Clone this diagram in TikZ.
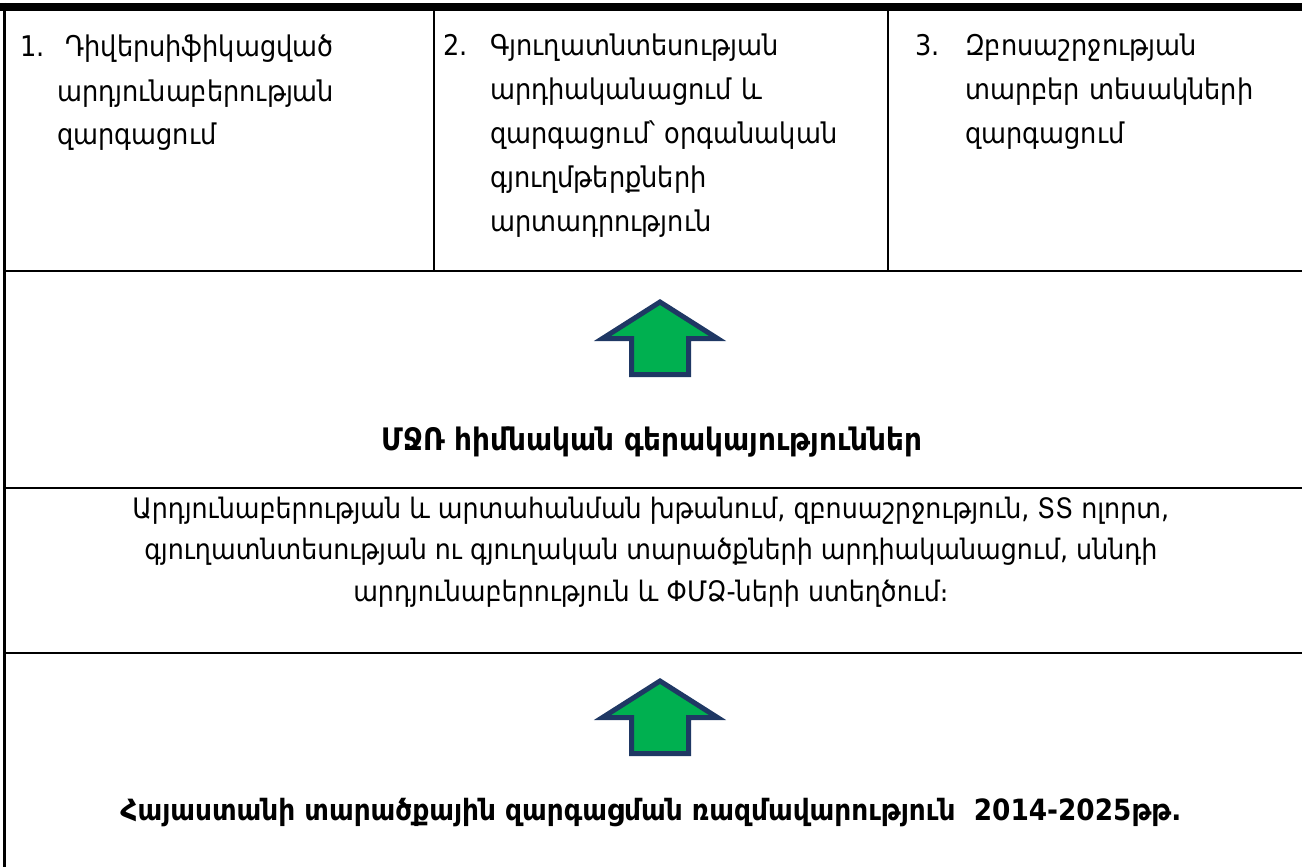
\documentclass[tikz,border=0pt]{standalone}
\usepackage{fontspec}
\setmainfont{DejaVu Sans Condensed}
\definecolor{arrowgreen}{HTML}{00B050}
\definecolor{arrownavy}{HTML}{1F3864}
\tikzset{
  rule/.style={line width=2.5pt, black},
  celltext/.style={anchor=base west, inner sep=0pt, align=left, text width=#1,
    font=\fontsize{28.5}{44}\selectfont},
  numtext/.style={anchor=base west, inner sep=0pt, font=\fontsize{28.5}{44}\selectfont},
  boldtitle/.style={anchor=base, inner sep=0pt, font=\bfseries\fontsize{#1}{34}\selectfont},
  paratext/.style={anchor=base, inner sep=0pt, align=center, font=\fontsize{28.2}{41.5}\selectfont},
  uparrow/.pic={
    \draw[line width=5pt, line join=miter, draw=arrownavy, fill=arrowgreen]
      (0,0) -- (-57.5,-36.5) -- (-28.5,-36.5) -- (-28.5,-72.5) -- (28.5,-72.5)
      -- (28.5,-36.5) -- (57.5,-36.5) -- cycle;
  }
}
\begin{document}
\begin{tikzpicture}[x=1pt,y=1pt]
\useasboundingbox (0,0) rectangle (1302,-867);
% frame
\fill[black] (0,-3) rectangle (1302,-11);
\draw[rule] (4.5,-3) -- (4.5,-867);
\draw[rule] (4.5,-271) -- (1302,-271);
\draw[rule] (4.5,-488) -- (1302,-488);
\draw[rule] (4.5,-653) -- (1302,-653);
\draw[rule] (434,-11) -- (434,-271);
\draw[rule] (888,-11) -- (888,-271);
% top cells
\node[numtext] (n1) at (20,-57) {1.};
\node[celltext=370pt] (c1) at (57,-57) {\hspace{8pt}Դիվերսիֆիկացված\\արդյունաբերության\\զարգացում};
\node[numtext] (n2) at (443,-56) {2.};
\node[celltext=390pt] (c2) at (490,-56) {Գյուղատնտեսության\\արդիականացում և\\զարգացում՝ օրգանական\\գյուղմթերքների\\արտադրություն};
\node[numtext] (n3) at (915,-56) {3.};
\node[celltext=330pt] (c3) at (965,-56) {Զբոսաշրջության\\տարբեր տեսակների\\զարգացում};
% arrow 1 and title
\pic (a1) at (660,-302) {uparrow};
\node[boldtitle=31] (t1) at (652,-450) {ՄՋՌ հիմնական գերակայություններ};
% paragraph
\node[paratext] (p1) at (651,-601) {Արդյունաբերության և արտահանման խթանում, զբոսաշրջություն, ՏՏ ոլորտ,\\գյուղատնտեսության ու գյուղական տարածքների արդիականացում, սննդի\\արդյունաբերություն և ՓՄՁ-ների ստեղծում։};
% arrow 2 and bottom title
\pic (a2) at (660,-681) {uparrow};
\node[boldtitle=29.3] (t2) at (651,-820) {Հայաստանի տարածքային զարգացման ռազմավարություն\ \ 2014-2025թթ.};
\end{tikzpicture}
\end{document}
